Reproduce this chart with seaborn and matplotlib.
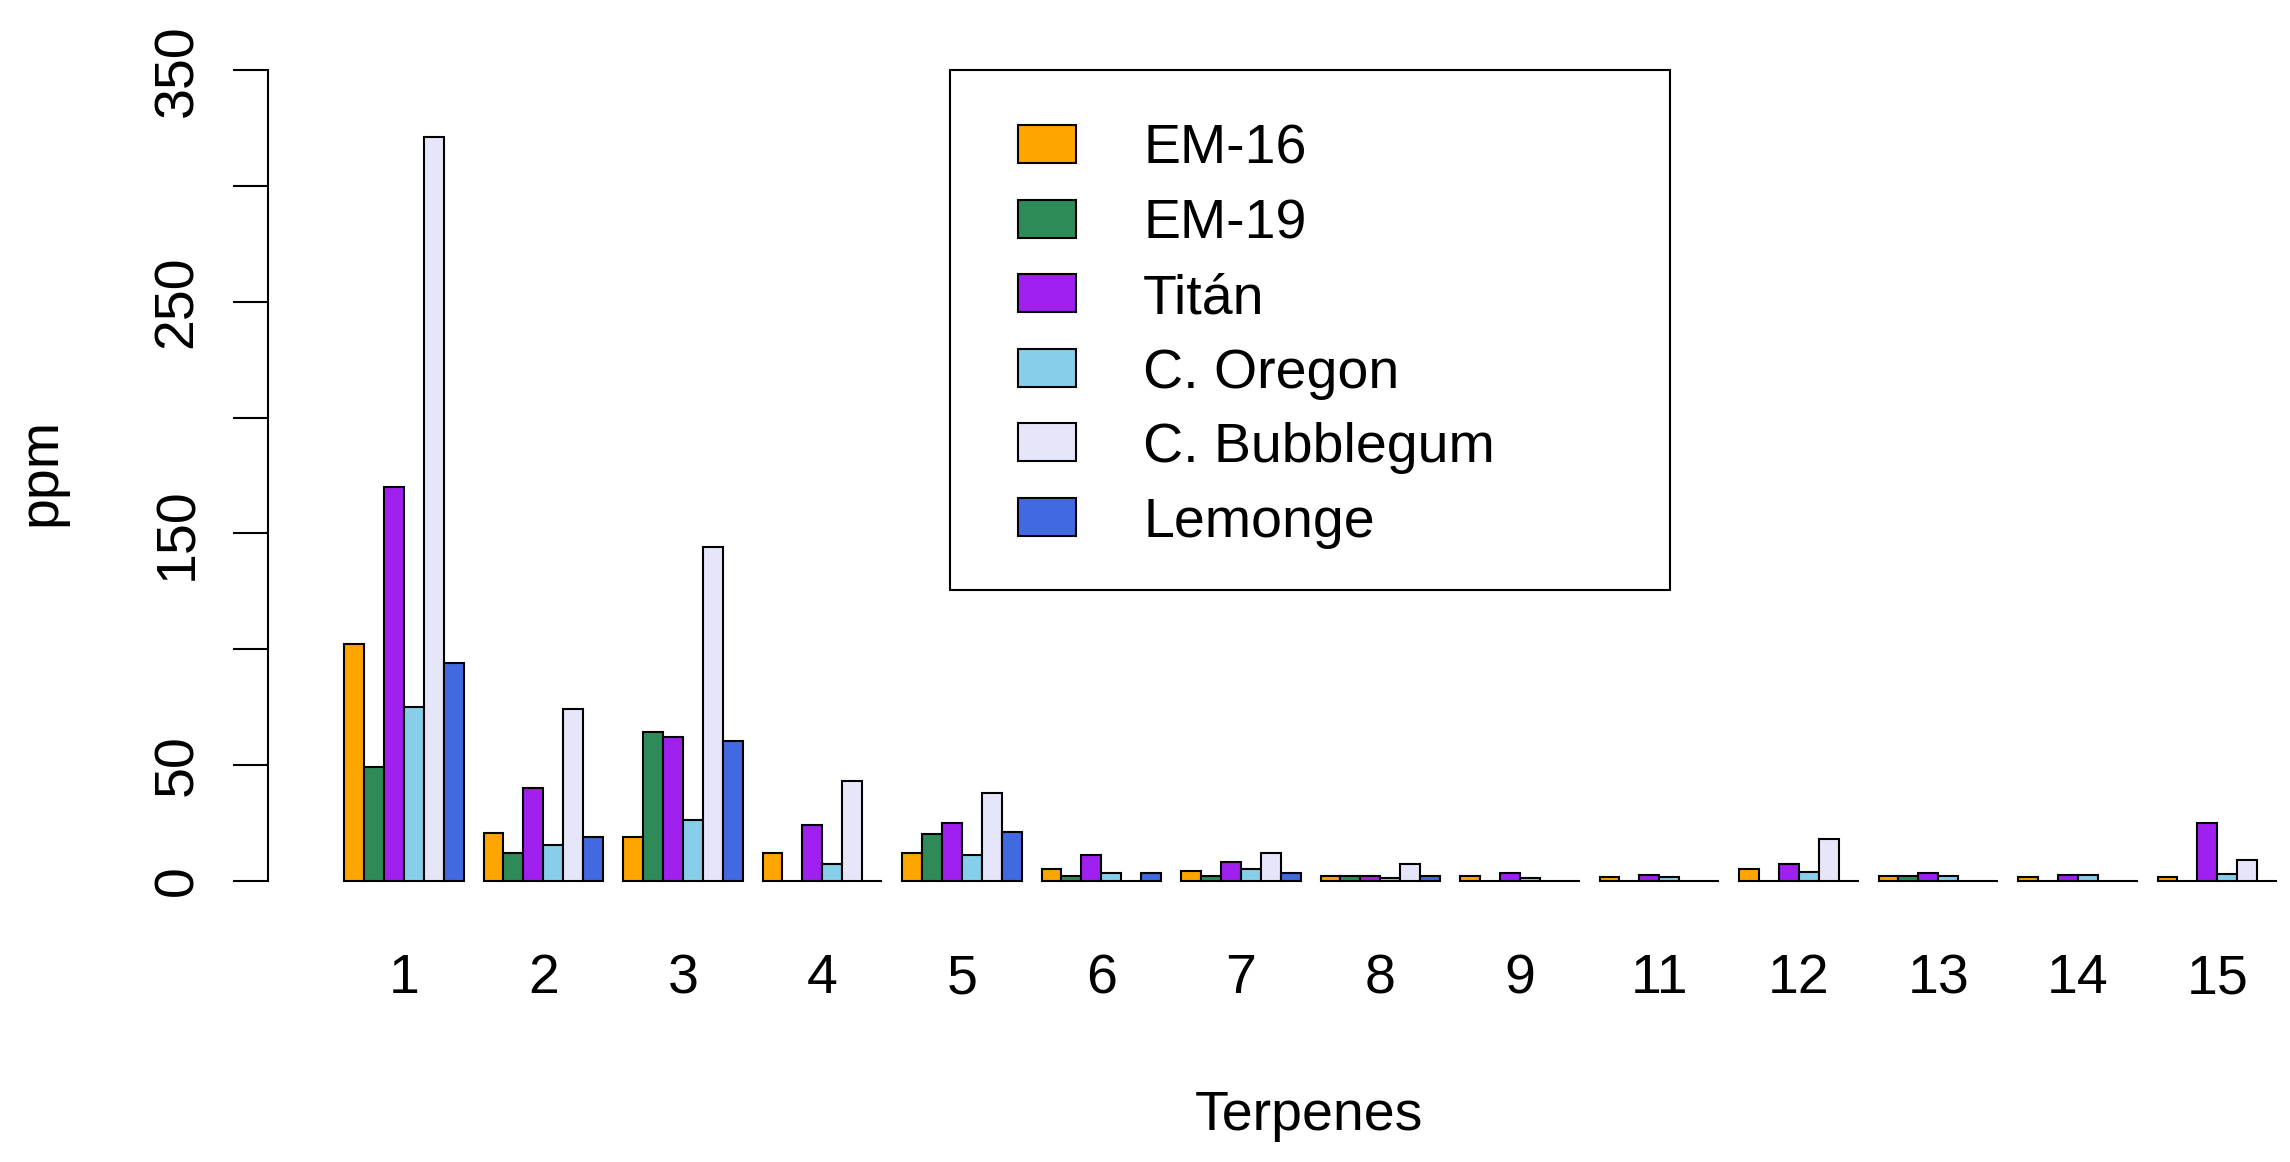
import matplotlib
matplotlib.use("Agg")
import matplotlib.pyplot as plt
from matplotlib.patches import Rectangle
import seaborn as sns
import pandas as pd

# ---- data ----
terpenes = ["1", "2", "3", "4", "5", "6", "7", "8", "9", "11", "12", "13", "14", "15"]
cultivars = ["EM-16", "EM-19", "Titán", "C. Oregon", "C. Bubblegum", "Lemonge"]
em16 = [102, 20.5, 19, 12, 12, 5, 4.2, 2.2, 2.2, 1.4, 5.2, 2.2, 1.4, 1.4]
em19 = [49, 12, 64, 0, 20, 2.2, 2.2, 2.2, 0, 0, 0, 2.2, 0, 0]
titan = [170, 40, 62, 24, 25, 11, 8, 2.2, 3.2, 2.4, 7, 3.2, 2.4, 25]
oregon = [75, 15.6, 26, 7, 11, 3.2, 5.2, 1, 1, 1.4, 3.9, 2.2, 2.4, 3]
bubblegum = [321, 74, 144, 43, 38, 0, 12, 7, 0, 0, 18, 0, 0, 9]
lemonge = [94, 19, 60.5, 0, 21, 3.2, 3.2, 2.2, 0, 0, 0, 0, 0, 0]
colors = ["#FFA500", "#2E8B57", "#A020F0", "#87CEEB", "#E6E6FA", "#4169E1"]
yticks = [0, 50, 100, 150, 200, 250, 300, 350]
ytick_labels = ["0", "50", "", "150", "", "250", "", "350"]

series = [em16, em19, titan, oregon, bubblegum, lemonge]
rows = []
for name, vals in zip(cultivars, series):
    for t, v in zip(terpenes, vals):
        rows.append({"Terpenes": t, "Cultivar": name, "ppm": v})
df = pd.DataFrame(rows)

W, H = 2290, 1162
FS = 40
plt.rcParams["font.family"] = ["Liberation Sans", "DejaVu Sans"]

fig = plt.figure(figsize=(W / 100, H / 100), dpi=100)
# axes geometry (pixels)
ax_left, ax_right = 268, 2290
ylo, yhi = -14, 364
ppu = 2.3157
ax_bottom = 880.7 - ylo * ppu
ax_h = (yhi - ylo) * ppu
ax = fig.add_axes([ax_left / W, 1 - ax_bottom / H, (ax_right - ax_left) / W, ax_h / H])

sns.barplot(data=df, x="Terpenes", y="ppm", hue="Cultivar", order=terpenes,
            hue_order=cultivars, palette=colors, width=6 / 7, dodge=True,
            edgecolor="black", linewidth=1.5, saturation=1, legend=False, ax=ax,
            errorbar=None)

ax.set_xlim(-0.9735, -0.9735 + (ax_right - ax_left) / 139.5)
ax.set_ylim(ylo, yhi)

for s in ["top", "right", "bottom"]:
    ax.spines[s].set_visible(False)
ax.spines["left"].set_bounds(0, 350)
ax.spines["left"].set_linewidth(1.5)

ax.set_yticks(yticks)
ax.set_yticklabels(ytick_labels, rotation=90, va="center", fontsize=FS)
ax.tick_params(axis="y", length=25, width=1.5, pad=21)
ax.tick_params(axis="x", length=0, pad=29, labelsize=FS)

ax.set_xlabel("Terpenes", fontsize=FS, va="center")
ax.xaxis.set_label_coords((1309 - ax_left) / (ax_right - ax_left), -(1116 - ax_bottom) / ax_h)
ax.set_ylabel("ppm", fontsize=FS, va="center", ha="center")
ax.yaxis.set_label_coords((41 - ax_left) / (ax_right - ax_left), (ax_bottom - 472) / ax_h)

# ---- legend (manual, R style) ----
box = Rectangle((950 / W, 1 - 590 / H), (1670 - 950) / W, (590 - 70) / H,
                transform=fig.transFigure, facecolor="none", edgecolor="black",
                linewidth=1.5)
fig.add_artist(box)
for i, (name, col) in enumerate(zip(cultivars, colors)):
    cy = 144 + i * 74.6
    fig.add_artist(Rectangle((1018 / W, 1 - (cy + 19) / H), 58 / W, 38 / H,
                             transform=fig.transFigure, facecolor=col,
                             edgecolor="black", linewidth=1.5))
    fig.text(1143 / W, 1 - (cy + 20) / H, name, fontsize=FS, va="baseline", ha="left")

fig.savefig("out.png", dpi=100)
